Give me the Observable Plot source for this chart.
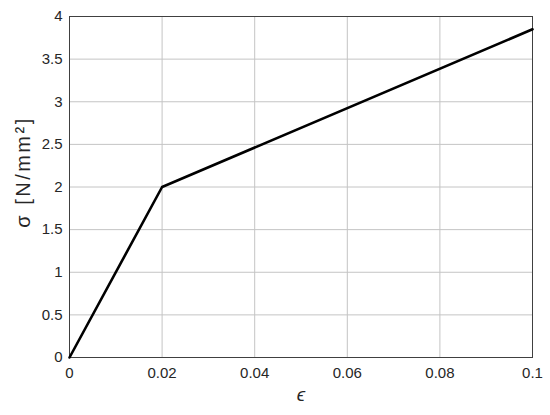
<!DOCTYPE html>
<html>
<head>
<meta charset="utf-8">
<script src="https://cdn.jsdelivr.net/npm/d3@7"></script>
<script src="https://cdn.jsdelivr.net/npm/@observablehq/plot@0.6"></script>
<style>
  html, body { margin: 0; padding: 0; background: #fff; }
  #chart { width: 550px; height: 415px; }
  svg { font-family: "Liberation Sans", Arial, sans-serif; }
</style>
</head>
<body>
<div id="chart"></div>
<script>
const strain = [0, 0.02, 0.1];
const stress = [0, 2, 3.85];
const xTicks = [0, 0.02, 0.04, 0.06, 0.08, 0.1];
const yTicks = [0, 0.5, 1, 1.5, 2, 2.5, 3, 3.5, 4];
const xLabel = "ϵ";
const yLabel = "σ [N/mm²]";

const data = strain.map((x, i) => ({x, y: stress[i]}));
const fmt = d => String(+d.toFixed(3));

const chart = Plot.plot({
  width: 550,
  height: 415,
  marginLeft: 69,
  marginRight: 18,
  marginTop: 16,
  marginBottom: 58,
  style: {fontFamily: "'Liberation Sans', Arial, sans-serif", fontSize: "15px", color: "#262626", background: "#fff"},
  x: {domain: [0, 0.1], ticks: xTicks, tickFormat: fmt, label: null},
  y: {domain: [0, 4], ticks: yTicks, tickFormat: fmt, label: null},
  marks: [
    Plot.ruleX(xTicks, {x: d => d, stroke: "#c4c4c4", strokeWidth: 1}),
    Plot.ruleY(yTicks, {y: d => d, stroke: "#c4c4c4", strokeWidth: 1}),
    Plot.axisX(xTicks, {tickSize: 0, tickPadding: 10, tickFormat: fmt, fill: "#262626", fontSize: 15, label: null}),
    Plot.axisY(yTicks, {tickSize: 0, tickPadding: 7, tickFormat: fmt, fill: "#262626", fontSize: 15, label: null}),
    Plot.frame({stroke: "#404040", strokeWidth: 1}),
    Plot.line(data, {x: "x", y: "y", stroke: "black", strokeWidth: 2.6}),
    Plot.text([xLabel], {frameAnchor: "bottom", dy: 43, text: d => d, fontSize: 19, fontStyle: "italic", fill: "#262626"}),
    Plot.text([yLabel], {frameAnchor: "left", textAnchor: "middle", dx: -46, dy: -15, rotate: -90, text: d => d, fontSize: 20, fill: "#262626"})
  ]
});
document.getElementById("chart").appendChild(chart);
// widen the y label slightly, as in the reference
chart.querySelectorAll("text").forEach(t => {
  if (t.textContent === yLabel) t.setAttribute("letter-spacing", "2.5");
});
</script>
</body>
</html>
